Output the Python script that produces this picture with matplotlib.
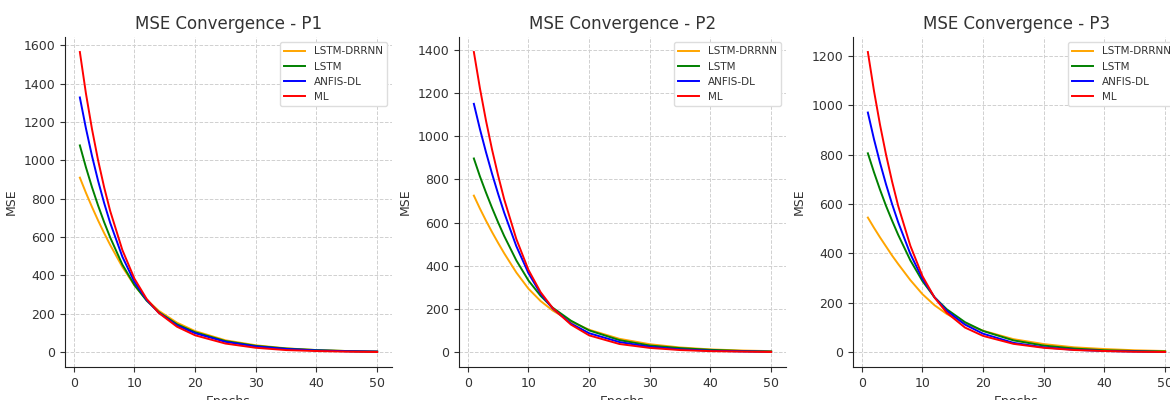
import matplotlib.pyplot as plt

epochs = [1, 2, 3, 4, 5, 6, 8, 10, 12, 14, 17, 20, 25, 30, 35, 40, 45, 50]

models = ['LSTM-DRRNN', 'LSTM', 'ANFIS-DL', 'ML']
colors = ['orange', 'green', 'blue', 'red']
titles = ['MSE Convergence - P1', 'MSE Convergence - P2', 'MSE Convergence - P3']

# P1
p1_lstm_drrnn = [910, 831, 757, 687, 621, 559, 445, 348, 274, 216, 154, 110, 62, 36, 20, 11, 6, 4]
p1_lstm = [1078, 964, 860, 765, 678, 598, 457, 350, 269, 209, 146, 104, 58, 33, 19, 11, 6, 3]
p1_anfis = [1328, 1167, 1023, 894, 778, 674, 498, 366, 273, 206, 140, 99, 54, 30, 17, 9, 5, 3]
p1_ml = [1565, 1349, 1163, 1001, 860, 736, 533, 383, 278, 205, 133, 88, 45, 23, 11, 6, 3, 1]

# P2
p2_lstm_drrnn = [725, 665, 609, 556, 506, 458, 369, 294, 237, 193, 142, 104, 62, 37, 22, 13, 8, 5]
p2_lstm = [897, 814, 739, 668, 601, 538, 425, 332, 261, 206, 146, 101, 56, 31, 19, 11, 6, 3]
p2_anfis = [1150, 1033, 926, 826, 733, 646, 491, 366, 271, 202, 133, 88, 47, 25, 13, 7, 4, 2]
p2_ml = [1390, 1222, 1072, 938, 818, 708, 524, 381, 278, 204, 128, 78, 38, 20, 10, 5, 3, 1]

# P3
p3_lstm_drrnn = [545, 504, 465, 428, 391, 357, 292, 235, 190, 155, 116, 87, 53, 33, 20, 13, 8, 5]
p3_lstm = [805, 729, 658, 592, 532, 475, 372, 288, 222, 174, 122, 86, 48, 27, 15, 8, 5, 3]
p3_anfis = [970, 863, 767, 679, 599, 526, 398, 297, 222, 168, 112, 75, 38, 20, 10, 5, 3, 1]
p3_ml = [1215, 1059, 921, 799, 690, 592, 431, 308, 221, 160, 100, 66, 34, 18, 9, 5, 2, 1]

panels = [
    [p1_lstm_drrnn, p1_lstm, p1_anfis, p1_ml],
    [p2_lstm_drrnn, p2_lstm, p2_anfis, p2_ml],
    [p3_lstm_drrnn, p3_lstm, p3_anfis, p3_ml],
]

txt = '#333333'
fig = plt.figure(figsize=(11.7, 4), dpi=100)
lefts = [65, 459, 853]

for i, series in enumerate(panels):
    ax = fig.add_axes([lefts[i] / 1170, 33 / 400, 327 / 1170, 330 / 400])
    for name, vals, c in zip(models, series, colors):
        ax.plot(epochs, vals, color=c, linewidth=1.4, label=name)
    ax.set_title(titles[i], fontsize=12, color=txt)
    ax.set_xlabel('Epochs', fontsize=9, color=txt)
    ax.set_ylabel('MSE', fontsize=9, color=txt)
    ax.set_xticks([0, 10, 20, 30, 40, 50])
    ax.tick_params(labelsize=9, colors=txt)
    ax.grid(True, linestyle='--', color='#d0d0d0', linewidth=0.7)
    for s in ['top', 'right']:
        ax.spines[s].set_visible(False)
    for s in ['left', 'bottom']:
        ax.spines[s].set_color('#222222')
    leg = ax.legend(loc='upper right', fontsize=7.5, framealpha=1, edgecolor='#dddddd')
    for t in leg.get_texts():
        t.set_color(txt)

fig.savefig('out.png', dpi=100)
